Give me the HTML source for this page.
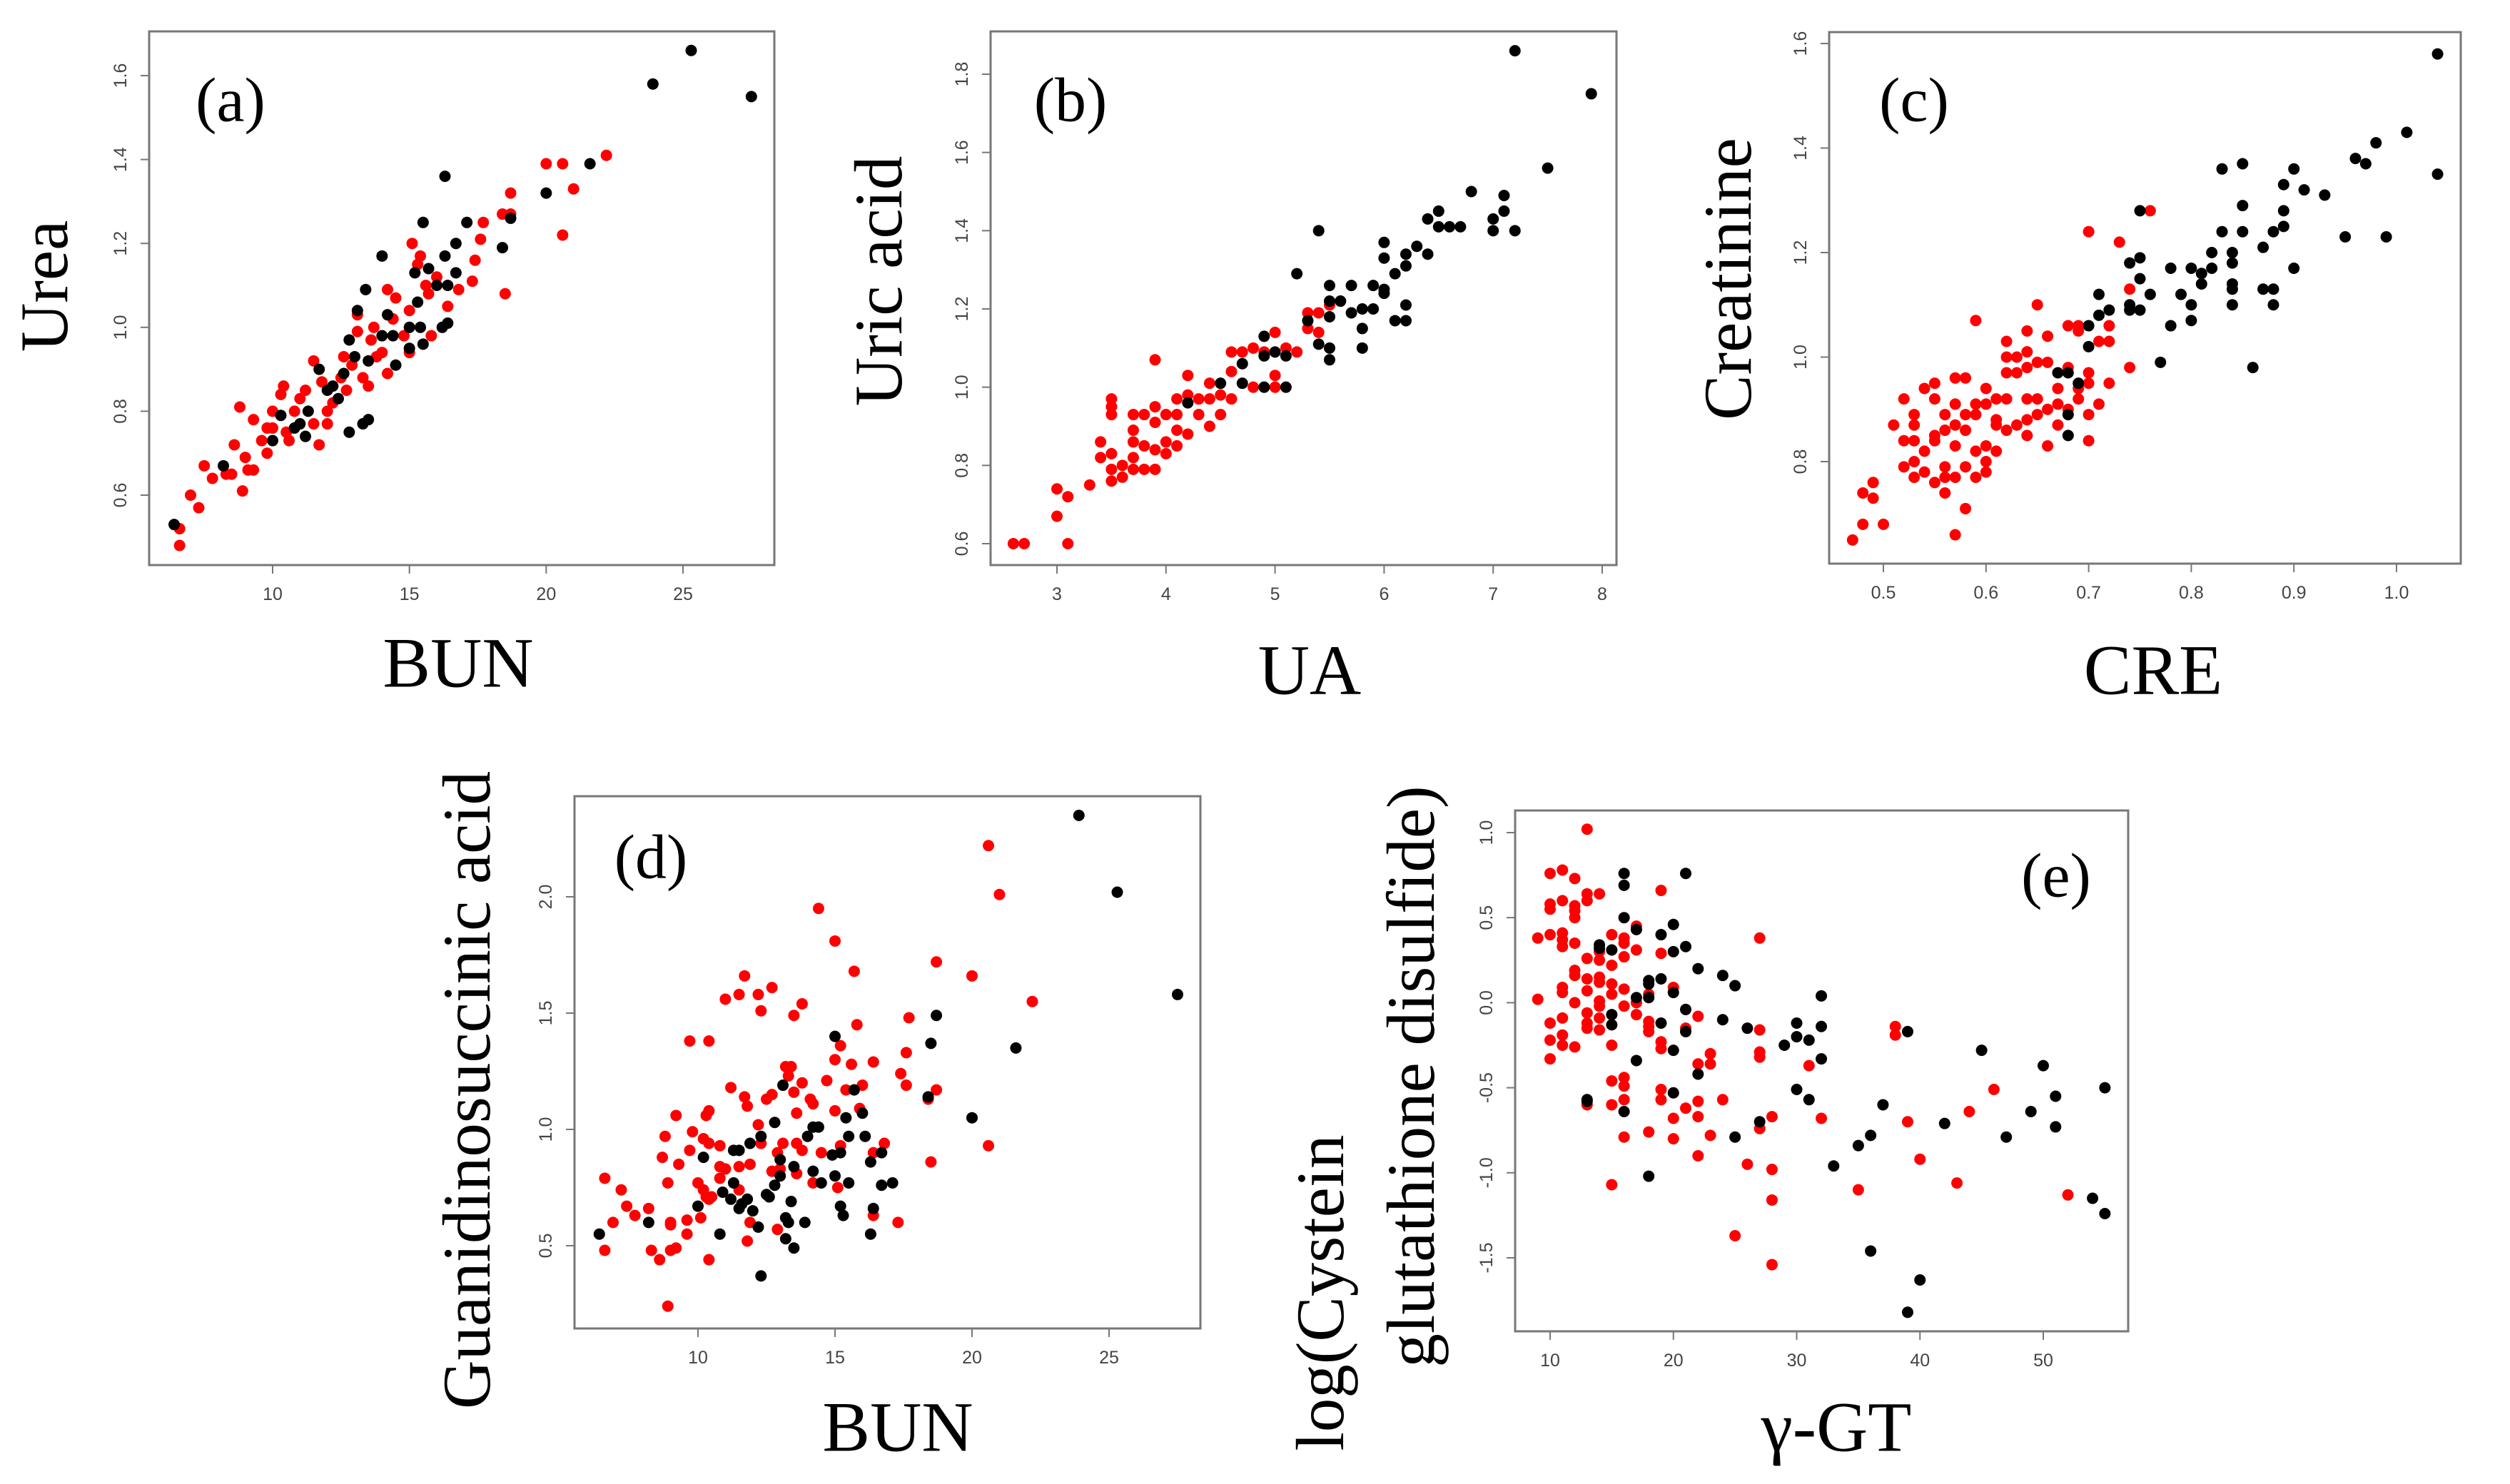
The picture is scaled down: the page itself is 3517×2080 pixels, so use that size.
<!DOCTYPE html>
<html><head><meta charset="utf-8"><style>
html,body{margin:0;padding:0;background:#fff;}
svg{display:block;}
.tk{font-family:"Liberation Sans",sans-serif;font-size:25px;fill:#444;}
.lab{font-family:"Liberation Serif",serif;fill:#000;}
</style></head><body>
<svg id="fig" width="3517" height="2080" viewBox="0 0 3517 2080" xmlns="http://www.w3.org/2000/svg"></svg>
<script>
// ---- data ----
const aBlackX=[6.4,8.2,10,10.3,10.8,11,11.2,11.3,11.7,12,12.2,12.4,12.6,12.8,12.8,13,13.1,13.3,13.4,13.5,13.5,14,14,14.2,14.4,14.5,15,15,15.2,15.3,15.4,15.5,15.5,15.7,16,16.2,16.3,16.3,16.4,16.4,16.7,16.7,17.1,18.4,18.7,20,21.6,23.9,25.3,27.5];
const aBlackY=[0.53,0.67,0.73,0.79,0.76,0.77,0.74,0.80,0.90,0.85,0.86,0.83,0.89,0.97,0.75,0.93,1.04,0.77,1.09,0.78,0.92,1.17,0.98,1.03,0.98,0.91,0.95,1.00,1.13,1.06,1.00,0.96,1.25,1.14,1.10,1.00,1.36,1.17,1.01,1.10,1.20,1.13,1.25,1.19,1.26,1.32,1.39,1.58,1.66,1.55];
const aRedX=[6.6,6.6,7,7.3,7.5,7.8,8.3,8.5,8.6,8.8,8.9,9,9.1,9.3,9.3,9.6,9.8,9.8,10,10,10.3,10.4,10.5,10.6,10.8,11,11.2,11.5,11.5,11.7,11.8,12,12,12.2,12.5,12.6,12.7,12.9,13.1,13.1,13.3,13.5,13.6,13.7,13.8,14,14.2,14.2,14.4,14.5,14.8,15,15,15.1,15.3,15.4,15.6,15.7,15.8,16,16.4,16.8,17.3,17.4,17.6,17.7,18.4,18.5,18.7,18.7,20,20.6,20.6,21,22.2];
const aRedY=[0.52,0.48,0.60,0.57,0.67,0.64,0.65,0.65,0.72,0.81,0.61,0.69,0.66,0.78,0.66,0.73,0.70,0.76,0.80,0.76,0.84,0.86,0.75,0.73,0.80,0.83,0.85,0.92,0.77,0.72,0.87,0.80,0.77,0.82,0.88,0.93,0.85,0.91,0.99,1.03,0.88,0.86,0.97,1.00,0.93,0.94,0.89,1.09,1.02,1.07,0.98,1.04,0.94,1.20,1.15,1.17,1.10,1.08,0.98,1.12,1.05,1.09,1.11,1.16,1.21,1.25,1.27,1.08,1.32,1.27,1.39,1.39,1.22,1.33,1.41];

const bBlackX=[4.2,4.5,4.7,4.7,4.9,4.9,4.9,5,5.1,5.1,5.2,5.3,5.4,5.4,5.5,5.5,5.5,5.5,5.5,5.6,5.7,5.7,5.8,5.8,5.8,5.9,5.9,6,6,6,6,6.1,6.1,6.2,6.2,6.2,6.2,6.3,6.4,6.4,6.5,6.5,6.6,6.7,6.8,7,7,7.1,7.1,7.2,7.2,7.5,7.9];
const bBlackY=[0.96,1.01,1.06,1.01,1.13,1.08,1.00,1.09,1.08,1.00,1.29,1.17,1.40,1.11,1.26,1.22,1.18,1.10,1.07,1.22,1.26,1.19,1.20,1.15,1.10,1.26,1.20,1.37,1.33,1.25,1.24,1.29,1.17,1.34,1.31,1.21,1.17,1.36,1.43,1.34,1.45,1.41,1.41,1.41,1.50,1.43,1.40,1.49,1.45,1.40,1.86,1.56,1.75];
const bRedX=[2.6,2.7,3,3,3.1,3.1,3.3,3.4,3.4,3.5,3.5,3.5,3.5,3.5,3.5,3.6,3.6,3.7,3.7,3.7,3.7,3.7,3.8,3.8,3.8,3.9,3.9,3.9,3.9,3.9,4,4,4,4.1,4.1,4.1,4.1,4.2,4.2,4.2,4.3,4.3,4.4,4.4,4.4,4.5,4.5,4.6,4.6,4.6,4.7,4.8,4.8,4.9,5,5,5,5.1,5.2,5.3,5.3,5.4,5.4,5.5,5.6];
const bRedY=[0.60,0.60,0.74,0.67,0.72,0.60,0.75,0.86,0.82,0.97,0.95,0.93,0.83,0.79,0.76,0.80,0.77,0.93,0.89,0.86,0.82,0.79,0.93,0.85,0.79,1.07,0.95,0.91,0.84,0.79,0.93,0.86,0.83,0.97,0.93,0.89,0.85,1.03,0.98,0.88,0.97,0.93,1.01,0.97,0.90,0.98,0.93,1.09,1.04,0.97,1.09,1.10,1.00,1.09,1.14,1.03,1.00,1.10,1.09,1.19,1.15,1.19,1.14,1.21,1.22];

const cBlackX=[0.67,0.68,0.68,0.68,0.69,0.70,0.70,0.71,0.71,0.72,0.74,0.74,0.74,0.75,0.75,0.75,0.75,0.76,0.77,0.78,0.78,0.79,0.80,0.80,0.80,0.81,0.81,0.82,0.82,0.83,0.83,0.84,0.84,0.84,0.84,0.84,0.85,0.85,0.85,0.86,0.87,0.87,0.88,0.88,0.88,0.89,0.89,0.89,0.90,0.90,0.91,0.93,0.95,0.96,0.97,0.98,0.99,1.01,1.04,1.04];
const cBlackY=[0.97,0.97,0.89,0.85,0.95,1.06,1.02,1.12,1.08,1.09,1.18,1.10,1.09,1.28,1.19,1.15,1.09,1.12,0.99,1.17,1.06,1.12,1.17,1.10,1.07,1.16,1.14,1.20,1.17,1.36,1.24,1.20,1.18,1.14,1.13,1.10,1.37,1.29,1.24,0.98,1.21,1.13,1.24,1.13,1.10,1.33,1.28,1.25,1.36,1.17,1.32,1.31,1.23,1.38,1.37,1.41,1.23,1.43,1.58,1.35];
const cRedX=[0.47,0.48,0.48,0.49,0.49,0.50,0.51,0.52,0.52,0.52,0.53,0.53,0.53,0.53,0.53,0.54,0.54,0.54,0.55,0.55,0.55,0.55,0.55,0.56,0.56,0.56,0.56,0.56,0.57,0.57,0.57,0.57,0.57,0.57,0.58,0.58,0.58,0.58,0.58,0.59,0.59,0.59,0.59,0.59,0.60,0.60,0.60,0.60,0.60,0.61,0.61,0.61,0.61,0.62,0.62,0.62,0.62,0.62,0.63,0.63,0.63,0.64,0.64,0.64,0.64,0.64,0.64,0.65,0.65,0.65,0.65,0.66,0.66,0.66,0.66,0.67,0.67,0.67,0.68,0.68,0.68,0.69,0.69,0.69,0.69,0.70,0.70,0.70,0.70,0.70,0.71,0.71,0.72,0.72,0.72,0.73,0.74,0.74,0.76];
const cRedY=[0.65,0.74,0.68,0.76,0.73,0.68,0.87,0.92,0.84,0.79,0.89,0.87,0.84,0.80,0.77,0.94,0.82,0.78,0.95,0.92,0.85,0.84,0.76,0.89,0.86,0.79,0.77,0.74,0.96,0.91,0.87,0.83,0.77,0.66,0.96,0.89,0.86,0.79,0.71,1.07,0.91,0.89,0.82,0.77,0.94,0.91,0.83,0.80,0.78,0.92,0.88,0.87,0.82,1.03,1.00,0.97,0.92,0.86,1.00,0.97,0.87,1.05,1.01,0.98,0.92,0.88,0.85,1.10,0.99,0.92,0.89,1.04,0.99,0.90,0.83,0.94,0.91,0.87,1.06,0.98,0.90,1.06,1.05,0.94,0.92,1.24,0.97,0.95,0.89,0.84,1.03,0.91,1.06,1.03,0.95,1.22,1.13,0.98,1.28];

const dBlackX=[6.4,8.2,10,10.2,10.8,10.9,11.2,11.3,11.3,11.5,11.5,11.6,11.8,11.9,12,12.2,12.3,12.3,12.5,12.6,12.8,12.8,13,13,13.1,13.2,13.2,13.3,13.4,13.5,13.5,13.9,14,14.2,14.2,14.4,14.5,14.9,15,15,15.2,15.2,15.3,15.4,15.5,15.5,15.7,16,16.1,16.3,16.3,16.4,16.7,16.7,17.1,18.4,18.5,18.7,20,21.6,23.9,25.3,27.5];
const dBlackY=[0.55,0.60,0.67,0.88,0.55,0.73,0.70,0.77,0.91,0.91,0.66,0.68,0.70,0.94,0.65,0.58,0.97,0.37,0.72,0.71,0.76,1.03,0.87,0.80,1.19,0.53,0.62,0.60,0.69,0.84,0.49,0.60,0.97,0.82,1.01,1.01,0.77,0.89,1.40,0.80,0.90,0.67,0.63,1.05,0.97,0.77,1.17,1.07,0.97,0.86,0.55,0.66,0.90,0.76,0.77,1.14,1.37,1.49,1.05,1.35,2.35,2.02,1.58];
const dRedX=[6.6,6.6,7.2,7.4,7.7,6.9,8.2,8.3,8.6,8.7,8.8,8.9,9,9,9,8.9,9.2,9.2,9.3,9.6,9.6,9.7,9.7,9.8,10,10.1,10.2,10.2,10.3,10.3,10.4,10.4,10.4,10.4,10.5,10.4,10.8,10.8,10.8,11,11,11.2,11.5,11.5,11.5,11.7,11.7,11.8,11.9,11.8,11.9,12.2,12.2,12.3,12.3,12.5,12.7,12.7,12.7,12.9,12.9,13,13.1,13.2,13.3,13.4,13.5,13.5,13.6,13.6,13.6,13.8,13.8,13.8,14.1,14.2,14.2,14.4,14.5,14.7,15,15,15,15.1,15.2,15.2,15.4,15.6,15.7,15.8,15.9,16,16.4,16.4,16.4,16.8,17.3,17.4,17.6,17.6,17.7,18.4,18.5,18.7,18.7,20,20.6,20.6,21,22.2];
const dRedY=[0.79,0.48,0.74,0.67,0.63,0.60,0.66,0.48,0.44,0.88,0.97,0.77,0.60,0.59,0.48,0.24,0.49,1.06,0.85,0.61,0.55,0.91,1.38,0.99,0.77,0.62,0.96,0.74,1.06,0.71,1.08,0.94,1.38,0.70,0.71,0.44,0.84,0.93,0.79,1.56,0.83,1.18,1.58,0.84,0.74,1.66,1.14,1.10,0.85,0.52,0.60,1.58,1.02,1.51,0.94,1.13,1.15,0.82,1.61,0.90,0.57,0.83,0.94,1.27,1.23,1.27,1.16,1.49,1.07,0.94,0.81,1.54,1.20,0.91,1.13,1.11,0.77,1.95,0.90,1.21,1.81,1.30,1.08,0.75,1.36,0.93,1.17,1.28,1.68,1.45,1.09,1.19,1.29,0.90,0.63,0.94,0.60,1.24,1.33,1.19,1.48,1.13,0.86,1.72,1.17,1.66,2.22,0.93,2.01,1.55];

const eBlackX=[13,13,14,14,15,15,15,16,16,16,16,17,17,17,18,18,18,18,19,19,19,20,20,20,20,20,21,21,21,21,22,22,24,24,25,25,26,27,29,30,30,30,31,31,32,32,32,33,35,36,36,37,39,39,40,42,45,47,49,50,51,51,54,55,55];
const eBlackY=[-0.57,-0.58,0.34,0.32,0.31,-0.07,-0.13,0.76,0.69,0.50,-0.64,0.43,0.03,-0.34,0.13,0.11,0.03,-1.02,0.40,0.14,-0.12,0.46,0.30,0.06,-0.28,-0.53,0.76,0.33,-0.04,-0.17,0.20,-0.42,0.16,-0.10,0.10,-0.79,-0.15,-0.70,-0.25,-0.12,-0.20,-0.51,-0.22,-0.57,0.04,-0.14,-0.33,-0.96,-0.84,-0.78,-1.46,-0.60,-0.17,-1.82,-1.63,-0.71,-0.28,-0.79,-0.64,-0.37,-0.55,-0.73,-1.15,-0.50,-1.24];
const eRedX=[9,9,10,10,10,10,10,10,10,11,11,11,11,11,11,11,11,11,11,12,12,12,12,12,12,12,12,12,13,13,13,13,13,13,13,13,13,13,14,14,14,14,14,14,14,14,14,15,15,15,15,15,15,15,15,16,16,16,16,16,16,16,16,16,17,17,17,17,18,18,18,18,18,19,19,19,19,19,19,20,20,20,21,21,22,22,22,22,22,23,23,23,24,25,26,27,27,27,27,27,28,28,28,28,31,32,35,38,38,39,40,43,44,46,52];
const eRedY=[0.38,0.02,0.76,0.58,0.55,0.40,-0.12,-0.22,-0.33,0.78,0.60,0.41,0.37,0.33,0.09,0.06,-0.09,-0.19,-0.25,0.73,0.57,0.54,0.50,0.35,0.19,0.16,0.00,-0.26,1.02,0.64,0.60,0.26,0.14,0.07,-0.06,-0.12,-0.15,-0.60,0.64,0.30,0.25,0.15,0.12,0.01,-0.02,-0.09,-0.16,0.40,0.22,0.11,0.05,-0.25,-0.46,-0.60,-1.07,0.38,0.35,0.27,0.08,-0.02,-0.44,-0.49,-0.57,-0.79,0.45,0.31,0.00,-0.07,0.05,-0.11,-0.14,-0.17,-0.76,0.66,0.29,-0.23,-0.27,-0.51,-0.57,0.09,-0.68,-0.80,-0.15,-0.62,-0.08,-0.36,-0.58,-0.67,-0.90,-0.30,-0.36,-0.78,-0.57,-1.37,-0.95,0.38,-0.16,-0.29,-0.32,-0.74,-0.67,-0.98,-1.16,-1.54,-0.37,-0.68,-1.10,-0.14,-0.19,-0.70,-0.92,-1.06,-0.64,-0.51,-1.13];

const aXTicks=[10,15,20,25], aYTicks=[0.6,0.8,1.0,1.2,1.4,1.6];
const bXTicks=[3,4,5,6,7,8], bYTicks=[0.6,0.8,1.0,1.2,1.4,1.6,1.8];
const cXTicks=[0.5,0.6,0.7,0.8,0.9,1.0], cYTicks=[0.8,1.0,1.2,1.4,1.6];
const dXTicks=[10,15,20,25], dYTicks=[0.5,1.0,1.5,2.0];
const eXTicks=[10,20,30,40,50], eYTicks=[-1.5,-1.0,-0.5,0.0,0.5,1.0];

const NS="http://www.w3.org/2000/svg";
const svg=document.getElementById('fig');
function mk(tag,attrs,parent){const e=document.createElementNS(NS,tag);for(const k in attrs)e.setAttribute(k,attrs[k]);(parent||svg).appendChild(e);return e;}
function fmt(v,dec){return dec?v.toFixed(1):String(v);}

function panel(p){
  const g=mk('g',{});
  
  
  const [L,T,R,B]=p.box;
  const sx=v=>p.x1[1]+(v-p.x1[0])*(p.x2[1]-p.x1[1])/(p.x2[0]-p.x1[0]);
  const sy=v=>p.y1[1]+(v-p.y1[0])*(p.y2[1]-p.y1[1])/(p.y2[0]-p.y1[0]);
  const pts=mk('g',{},g);
  
  
  p.rx.forEach((v,i)=>{const c=mk('circle',{cx:sx(v),cy:sy(p.ry[i]),r:8,fill:'#ff0000'},pts);
    
    });
  p.bx.forEach((v,i)=>{const c=mk('circle',{cx:sx(v),cy:sy(p.by[i]),r:8,fill:'#000'},pts);
    
    });
  const box=mk('rect',{x:L,y:T,width:R-L,height:B-T,fill:'none',stroke:'#777','stroke-width':3},g);
  
  
  const xa=mk('g',{},g);
  
  
  mk('line',{x1:sx(p.xt[0]),x2:sx(p.xt[p.xt.length-1]),y1:B,y2:B,stroke:'#777','stroke-width':2},xa);
  p.xt.forEach(v=>{const X=sx(v);mk('line',{x1:X,x2:X,y1:B,y2:B+12,stroke:'#777','stroke-width':2},xa);
    const t=mk('text',{x:X,y:B+41,'text-anchor':'middle','dominant-baseline':'central',class:'tk'},xa);t.textContent=fmt(v,p.xdec);
    
    });
  const ya=mk('g',{},g);
  
  
  mk('line',{x1:L,x2:L,y1:sy(p.yt[0]),y2:sy(p.yt[p.yt.length-1]),stroke:'#777','stroke-width':2},ya);
  p.yt.forEach(v=>{const Y=sy(v);mk('line',{x1:L,x2:L-12,y1:Y,y2:Y,stroke:'#777','stroke-width':2},ya);
    const t=mk('text',{x:L-40,y:Y,'text-anchor':'middle','dominant-baseline':'central',class:'tk',transform:`rotate(-90 ${L-40} ${Y})`},ya);t.textContent=v.toFixed(1);
    
    });
  const pl=mk('text',{x:p.tag[0],y:p.tag[1],'text-anchor':'middle','dominant-baseline':'central',class:'lab','font-size':88},g);
  pl.textContent='('+p.id+')';
  
  
  const xl=mk('text',{x:p.xl[0],y:p.xl[1],'text-anchor':'middle','dominant-baseline':'central',class:'lab','font-size':100},g);
  xl.textContent=p.xlab;
  
  
  p.yl.forEach(o=>{const t=mk('text',{x:o[0],y:o[1],'text-anchor':'middle','dominant-baseline':'central',class:'lab','font-size':95,transform:`rotate(-90 ${o[0]} ${o[1]})`},g);
    t.textContent=o[2];
    
    });
}

panel({id:'a',box:[209,44,1085,792],x1:[10,382],x2:[25,957],y1:[0.6,694],y2:[1.6,106],xt:aXTicks,yt:aYTicks,
  bx:aBlackX,by:aBlackY,rx:aRedX,ry:aRedY,tag:[323,141],xl:[642,929],xlab:'BUN',yl:[[62,401,'Urea']]});
panel({id:'b',box:[1388,44,2265,792],x1:[3,1481],x2:[8,2245],y1:[0.6,762],y2:[1.8,104],xt:bXTicks,yt:bYTicks,
  bx:bBlackX,by:bBlackY,rx:bRedX,ry:bRedY,tag:[1500,141],xl:[1835,939],xlab:'UA',yl:[[1231,394,'Uric acid']]});
panel({id:'c',box:[2563,45,3448,790],x1:[0.5,2639],x2:[1.0,3358],y1:[0.8,647],y2:[1.6,61],xt:cXTicks,yt:cYTicks,xdec:true,
  bx:cBlackX,by:cBlackY,rx:cRedX,ry:cRedY,tag:[2682,141],xl:[3017,939],xlab:'CRE',yl:[[2421,391,'Creatinine']]});
panel({id:'d',box:[805,1116,1682,1862],x1:[10,978],x2:[25,1554],y1:[0.5,1746],y2:[2.0,1257],xt:dXTicks,yt:dYTicks,
  bx:dBlackX,by:dBlackY,rx:dRedX,ry:dRedY,tag:[912,1202],xl:[1258,2000],xlab:'BUN',yl:[[654,1528,'Guanidinosuccinic acid']]});
panel({id:'e',box:[2123,1136,2982,1866],x1:[10,2172],x2:[50,2863],y1:[-1.5,1763],y2:[1.0,1167],xt:eXTicks,yt:eYTicks,
  bx:eBlackX,by:eBlackY,rx:eRedX,ry:eRedY,tag:[2881,1228],xl:[2573,2000],xlab:'γ-GT',
  yl:[[1850,1812,'log(Cystein'],[1977,1509,'glutathione disulfide)']]});
</script>
</body></html>
